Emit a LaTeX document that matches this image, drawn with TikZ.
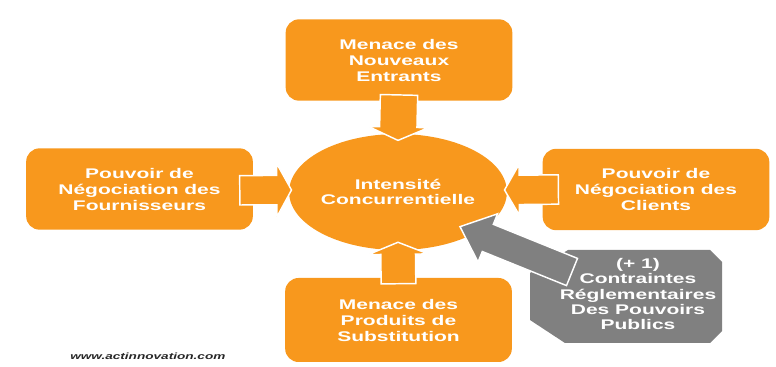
\documentclass[tikz,border=0pt]{standalone}
\usepackage{fontspec}
\newfontfamily\widefont[FakeStretch=1.5]{Liberation Sans}
\usetikzlibrary{calc, shapes.geometric}
\definecolor{porange}{RGB}{248, 152, 29}
\definecolor{pgrey}{RGB}{128, 128, 128}

\tikzset{
	force box/.style={fill=porange, rounded corners=10pt, minimum width=170pt,
		minimum height=61pt, inner sep=0pt, text=white, align=center,
		font=\widefont\bfseries\fontsize{10.5}{12}\selectfont},
	% shaft half width, head half width, head length
	fat arrow/.style n args={3}{draw=white, line width=1.1pt, line join=miter,
		to path={
			($(\tikztostart)!#1!90:(\tikztotarget)$)
			-- ($(\tikztotarget)!#3!(\tikztostart)!#1!-90:(\tikztostart)$)
			-- ($(\tikztotarget)!#3!(\tikztostart)!#2!-90:(\tikztostart)$)
			-- (\tikztotarget)
			-- ($(\tikztotarget)!#3!(\tikztostart)!#2!90:(\tikztostart)$)
			-- ($(\tikztotarget)!#3!(\tikztostart)!#1!90:(\tikztostart)$)
			-- ($(\tikztostart)!#1!-90:(\tikztotarget)$) -- cycle}},
}

\begin{document}
\begin{tikzpicture}[x=0.75pt, y=-0.75pt]
	\useasboundingbox (0,0) rectangle (776,367);

	\node[force box] (nouveaux) at (399,60) {Menace des\\Nouveaux\\Entrants};
	\node[force box] (fourn) at (139.5,189) {Pouvoir de\\Négociation des\\Fournisseurs};
	\node[force box] (clients) at (656,189.5) {Pouvoir de\\Négociation des\\Clients};
	\node[force box, minimum height=63pt] (subst) at (398.5,320) {Menace des\\Produits de\\Substitution};

	\node[ellipse, fill=porange, minimum width=135pt, minimum height=87pt, inner sep=0pt,
		text=white, align=center, font=\widefont\bfseries\fontsize{10.5}{11.25}\selectfont]
		(centre) at (398,192) {Intensité\\Concurrentielle};

	% octogone gris
	\fill[pgrey] (530,273) -- (568,250) -- (710,250) -- (722,262) -- (722,331)
		-- (710,343) -- (565,343) -- (530,320) -- cycle;
	\node[text=white, align=center, inner sep=0pt,
		font=\widefont\bfseries\fontsize{10.5}{11.5}\selectfont]
		(contraintes) at (638,294) {(+ 1)\\Contraintes\\Réglementaires\\Des Pouvoirs\\Publics};

	\coordinate (ntail) at ([yshift=4.5pt]nouveaux.south);
	\coordinate (ntip) at ([yshift=-5pt]centre.north);
	\coordinate (ftail) at ([xshift=-10pt,yshift=-1pt]fourn.east);
	\coordinate (ftip) at ([xshift=2pt,yshift=1.5pt]centre.west);
	\coordinate (ctail) at ([xshift=12pt]clients.west);
	\coordinate (ctip) at ([xshift=-2pt,yshift=1.5pt]centre.east);
	\coordinate (stail) at ([yshift=-4.5pt]subst.north);
	\coordinate (stip) at ([yshift=6pt]centre.south);
	\coordinate (gtail) at ([shift={(-49.5pt,16.5pt)}]contraintes.center);
	\coordinate (gtip) at ([shift={(46.5pt,-26pt)}]centre.center);

	\foreach \a/\b/\w/\h/\l in {ntail/ntip/14pt/22.5pt/10pt, stail/stip/13pt/22.5pt/9pt,
		ftail/ftip/11pt/20pt/11pt, ctail/ctip/11pt/19pt/11pt}
		\draw[fat arrow={\w}{\h}{\l}, fill=porange] (\a) to (\b);

	\draw[fat arrow={11pt}{19.5pt}{22.5pt}, fill=pgrey] (gtail) to (gtip);

	\node[anchor=west, text=black!85, inner sep=0pt,
		font=\widefont\bfseries\itshape\fontsize{6.8}{8}\selectfont]
		(site) at (70,356) {www.actinnovation.com};
\end{tikzpicture}
\end{document}
